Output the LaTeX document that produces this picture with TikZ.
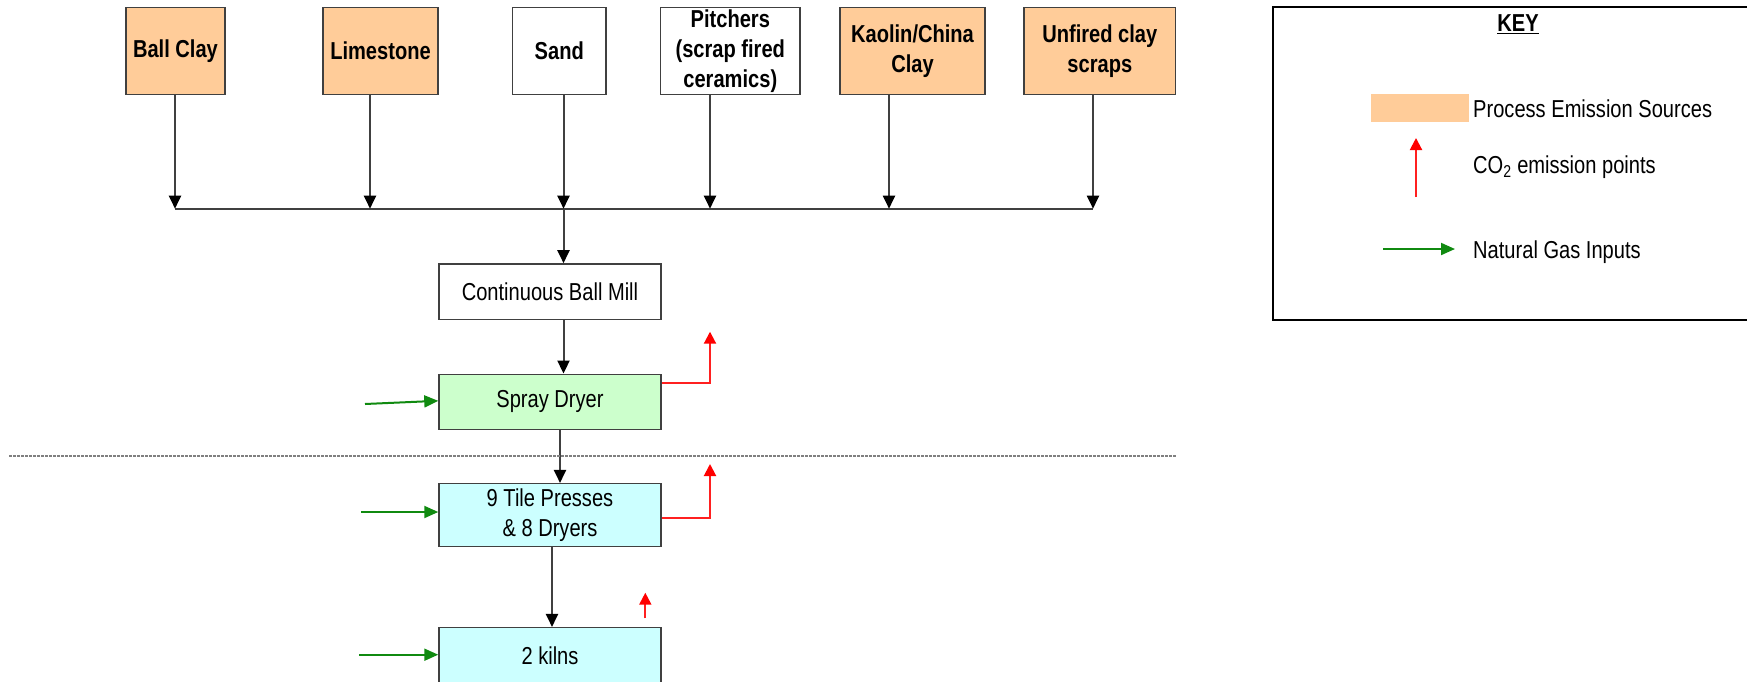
\documentclass[tikz,border=0pt]{standalone}
\usepackage{fontspec}
\setmainfont{Liberation Sans}[FakeStretch=0.82]
\usetikzlibrary{arrows.meta}
\definecolor{peach}{HTML}{FFCC99}
\definecolor{mint}{HTML}{CCFFCC}
\definecolor{aqua}{HTML}{CCFFFF}
\definecolor{gasgreen}{HTML}{108A10}
\definecolor{linegray}{HTML}{404040}
\definecolor{emitred}{HTML}{FF2020}
\begin{document}
\begin{tikzpicture}[x=1pt,y=-1pt,
  font=\fontsize{24.5}{30}\selectfont,
  box/.style={draw=linegray, line width=1.5pt, align=center, inner sep=0pt},
  srcbox/.style={box, minimum height=87pt, font=\fontsize{24.5}{30}\selectfont\bfseries},
  procbox/.style={box, minimum width=222pt},
  flow/.style={line width=2pt, linegray, -{Triangle[width=12pt,length=13pt,color=black]}},
  emit/.style={line width=2pt, emitred, -{Triangle[width=12pt,length=12pt,color=red]}},
  gas/.style={line width=2pt, gasgreen, -{Triangle[width=12pt,length=14pt]}},
  keytext/.style={anchor=west, inner sep=0pt}]
\clip (0,0) rectangle (1747,681);

% source boxes
\node[srcbox, fill=peach, minimum width=99pt]    (ball)    at (175.5,51) {Ball Clay};
\node[srcbox, fill=peach, minimum width=115pt]   (lime)    at (380.5,51) {Limestone};
\node[srcbox, fill=white, minimum width=93.5pt]  (sand)    at (559.3,51) {Sand};
\node[srcbox, fill=white, minimum width=139.5pt] (pitch)   at (730.3,51) {Pitchers\\(scrap fired\\ceramics)};
\node[srcbox, fill=peach, minimum width=145pt]   (kaolin)  at (912.5,51) {Kaolin/China\\Clay};
\node[srcbox, fill=peach, minimum width=151.5pt] (unfired) at (1099.8,51) {Unfired clay\\scraps};

% bus
\coordinate (b1) at (175,208.7);
\coordinate (b2) at (370,208.7);
\coordinate (b3) at (563.5,208.7);
\coordinate (b4) at (710,208.7);
\coordinate (b5) at (889,208.7);
\coordinate (b6) at (1093,208.7);
\draw[line width=2pt, linegray] (b1) -- (b6);
\draw[flow] (ball.south -| b1) -- (b1);
\draw[flow] (lime.south -| b2) -- (b2);
\draw[flow] (sand.south -| b3) -- (b3);
\draw[flow] (pitch.south -| b4) -- (b4);
\draw[flow] (kaolin.south -| b5) -- (b5);
\draw[flow] (unfired.south -| b6) -- (b6);

% process boxes
\node[procbox, fill=white, minimum height=55.5pt] (mill)  at (550,291.7) {Continuous Ball Mill};
\node[procbox, fill=mint,  minimum height=55pt]   (spray) at (550,401.8) {Spray Dryer};
\node[procbox, fill=aqua,  minimum height=62.6pt] (tile)  at (550,515)   {9 Tile Presses\\\& 8 Dryers};
\node[procbox, fill=aqua,  minimum height=56pt]   (kilns) at (550,655.7) {2 kilns};

\coordinate (c1) at (560,0);
\coordinate (c2) at (552,0);
\draw[flow] (b3) -- (b3 |- mill.north);
\draw[flow] (mill.south -| b3) -- (spray.north -| b3);
\draw[flow] (spray.south -| c1) -- (tile.north -| c1);
\draw[flow] (tile.south -| c2) -- (kilns.north -| c2);

% divider
\coordinate (d1) at (9,456);
\coordinate (d2) at (1175.5,456);
\draw[gray, line width=1.4pt, dash pattern=on 2.5pt off 1.5pt] (d1) -- (d2);

% natural gas inputs
\coordinate (g1) at (365,404);
\coordinate (g2) at (361,512);
\coordinate (g3) at (359,654.7);
\draw[gas] (g1) -- ([yshift=1pt]spray.west);
\draw[gas] (g2) -- (g2 -| tile.west);
\draw[gas] (g3) -- (g3 -| kilns.west);

% CO2 emission points
\coordinate (e1) at (710,383.3);
\coordinate (e1t) at (710,331.7);
\coordinate (e2) at (710,517.7);
\coordinate (e2t) at (710,464);
\coordinate (e3) at (645.3,618.3);
\coordinate (e3t) at (645.3,592.7);
\draw[emit] (spray.east |- e1) -| (e1t);
\draw[emit] (tile.east |- e2) -| (e2t);
\draw[emit] (e3) -- (e3t);

% key
\node[draw=black, line width=2.2pt, anchor=north west, minimum width=500pt, minimum height=313pt, inner sep=0pt] (key) at (1272,6) {};
\node[font=\fontsize{24.5}{30}\selectfont\bfseries, inner sep=0pt] (keyt) at (1518,24) {\underline{KEY}};
\node[fill=peach, minimum width=98pt, minimum height=28pt, inner sep=0pt] (ksw) at (1420,108) {};
\node[keytext] (kt1) at (1473,109) {Process Emission Sources};
\coordinate (kr1) at (1416,197);
\coordinate (kr2) at (1416,138);
\draw[emit] (kr1) -- (kr2);
\node[keytext] (kt2) at (1473,167) {CO\textsubscript{2} emission points};
\coordinate (kg1) at (1383,249);
\coordinate (kg2) at (1455,249);
\draw[gas] (kg1) -- (kg2);
\node[keytext] (kt3) at (1473,252) {Natural Gas Inputs};
\end{tikzpicture}
\end{document}
